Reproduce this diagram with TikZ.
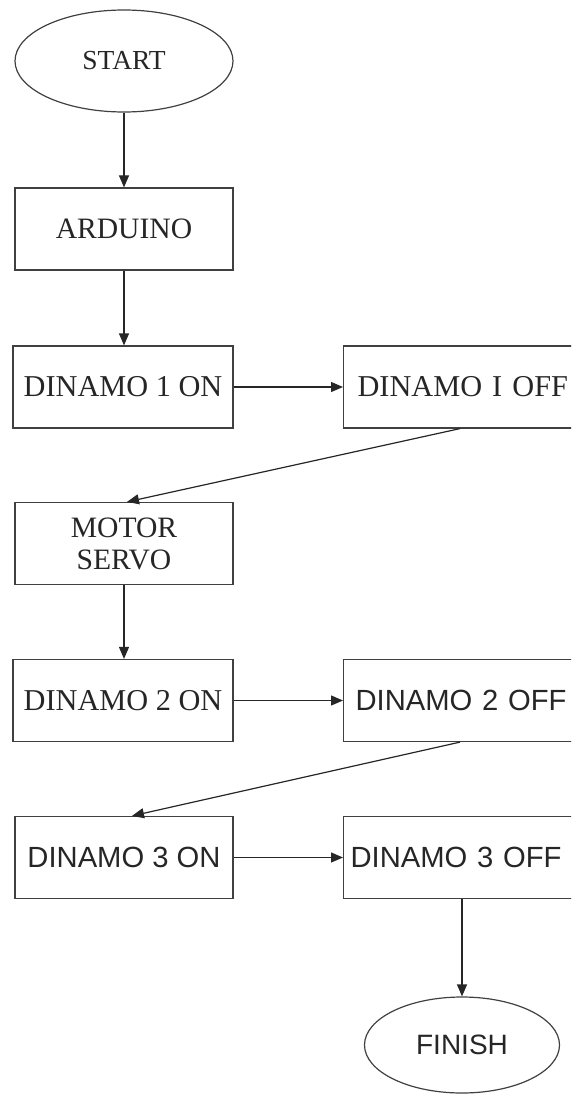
\documentclass[tikz,border=0pt]{standalone}
\usepackage{fontspec}
\setmainfont{Liberation Serif}
\newfontfamily\arialf{Liberation Sans}
\usetikzlibrary{shapes.geometric,arrows.meta}
\begin{document}
\begin{tikzpicture}[x=1pt,y=-1pt,
  line width=1.2pt,
  boxnode/.style={draw=black!75, rectangle, minimum height=82pt, inner sep=0pt,
    text=black!85, font=\fontsize{30.3}{32}\selectfont, align=center},
  sansbox/.style={boxnode, font=\arialf\fontsize{29.2}{32}\selectfont},
  offbox/.style={anchor=west, minimum width=240pt, text width=228pt, align=left, inner xsep=6pt},
  ovalnode/.style={draw=black!75, ellipse, inner sep=0pt, text=black!85},
  arr/.style={draw=black!85, -{Triangle[length=12pt,width=10pt]}}]
\useasboundingbox (0,0) rectangle (571,1094);
\clip (0,0) rectangle (571,1094);
\node[ovalnode, minimum width=218pt, minimum height=102pt, font=\fontsize{27.5}{30}\selectfont] (start) at (124,61) {START};
\node[boxnode, minimum width=218pt, font=\fontsize{29.6}{32}\selectfont] (arduino) at (124,229) {ARDUINO};
\node[boxnode, minimum width=220pt] (on1) at (123,387) {DINAMO 1 ON};
\node[boxnode, offbox, inner xsep=14pt, text width=212pt] (off1) at (343,387) {DINAMO I OFF};
\node[boxnode, minimum width=218pt, font=\fontsize{29.6}{32}\selectfont] (motor) at (124,543.5) {MOTOR\\SERVO};
\node[boxnode, minimum width=220pt] (on2) at (123,700.5) {DINAMO 2 ON};
\node[sansbox, offbox, inner xsep=12pt, text width=216pt] (off2) at (343,700.5) {DINAMO 2 OFF};
\node[sansbox, minimum width=218pt] (on3) at (124,857.5) {DINAMO 3 ON};
\node[sansbox, offbox, inner xsep=7pt, text width=226pt] (off3) at (343,857.5) {DINAMO 3 OFF};
\node[ovalnode, minimum width=195pt, minimum height=96pt, font=\arialf\fontsize{28}{30}\selectfont] (finish) at (462,1045) {FINISH};
\draw[arr] (start.south) -- (arduino.north);
\draw[arr] (arduino.south) -- (arduino.south |- on1.north);
\draw[arr] (on1.east) -- (off1.west);
\draw[arr] ([xshift=117pt]off1.south west) -- ([xshift=3pt]motor.north);
\draw[arr] (motor.south) -- (motor.south |- on2.north);
\draw[arr] (on2.east) -- (off2.west);
\draw[arr] ([xshift=117pt]off2.south west) -- ([xshift=8pt]on3.north);
\draw[arr] (on3.east) -- (off3.west);
\draw[arr] (off3.south west -| finish.north) -- (finish.north);
\end{tikzpicture}
\end{document}
